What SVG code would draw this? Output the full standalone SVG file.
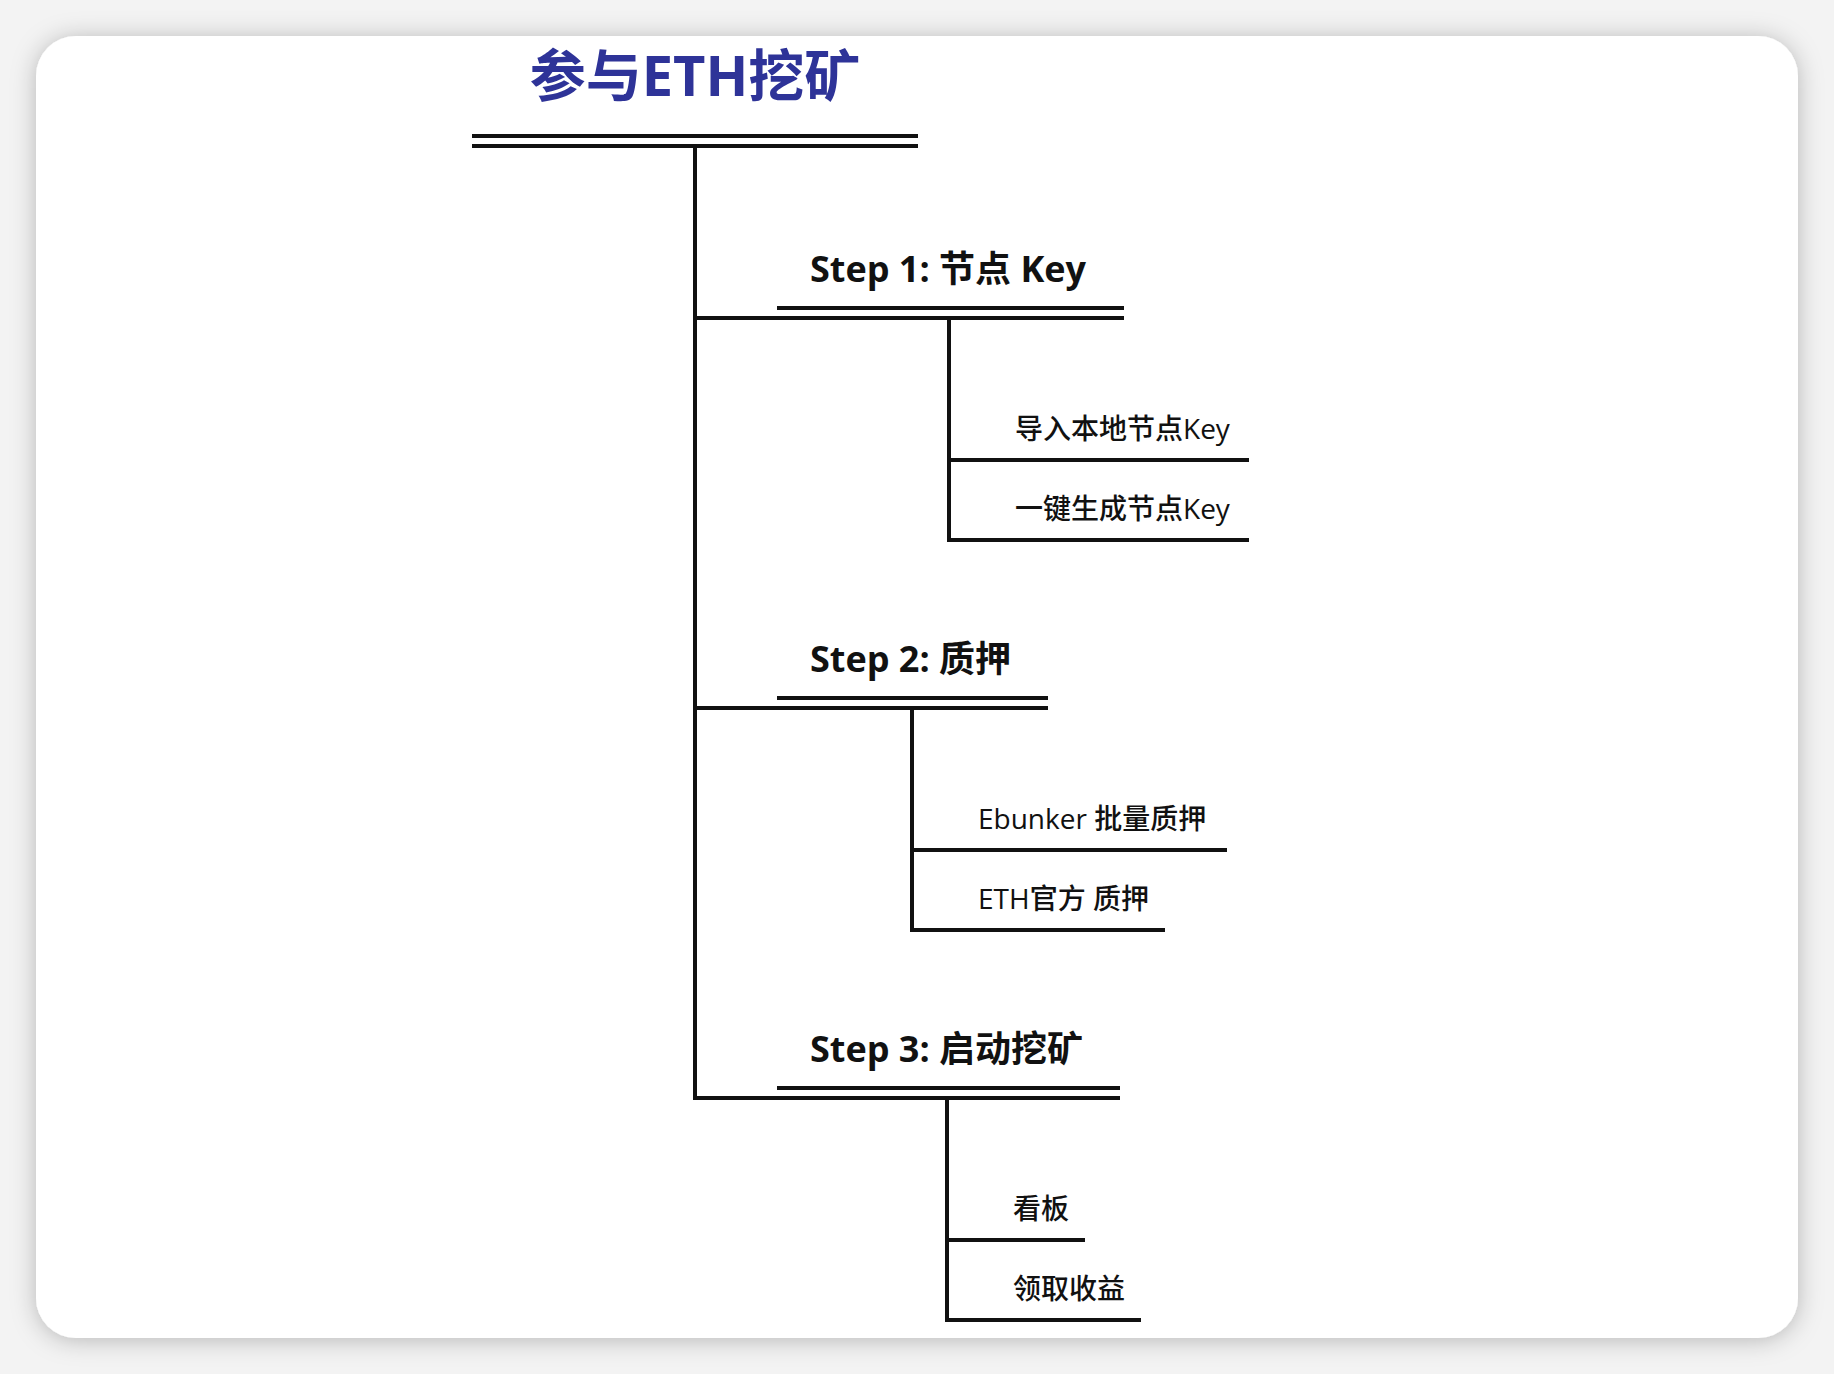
<svg xmlns="http://www.w3.org/2000/svg" width="1834" height="1374" viewBox="0 0 1834 1374">
  <defs>
    <filter id="shadow" x="-5%" y="-5%" width="110%" height="110%">
      <feDropShadow dx="0" dy="2" stdDeviation="12" flood-color="#000" flood-opacity="0.25"/>
    </filter>
    <style>
      .ln { stroke: #111; stroke-width: 4; fill: none; stroke-linecap: butt; }
      .title { font-family: "Open Sans", "Noto Sans CJK SC", sans-serif; font-weight: 700; font-size: 56px; fill: #2e3398; }
      .step { font-family: "Open Sans", "Noto Sans CJK SC", sans-serif; font-weight: 700; font-size: 36px; fill: #111; }
      .item { font-family: "Open Sans", "Noto Sans CJK SC", sans-serif; font-weight: 500; font-size: 28px; fill: #111; }
    </style>
  </defs>
  <rect x="0" y="0" width="1834" height="1374" fill="#f3f3f3"/>
  <rect x="36" y="36" width="1762" height="1302" rx="40" ry="40" fill="#ffffff" filter="url(#shadow)"/>

  <g id="connectors">
    <line class="ln" x1="695" y1="146" x2="695" y2="1099.7"/>
    <line class="ln" x1="693" y1="318" x2="1124" y2="318"/>
    <line class="ln" x1="693" y1="708" x2="1048" y2="708"/>
    <line class="ln" x1="693" y1="1098" x2="1120" y2="1098"/>
    <line class="ln" x1="949" y1="318" x2="949" y2="542"/>
    <line class="ln" x1="912" y1="708" x2="912" y2="932"/>
    <line class="ln" x1="947" y1="1098" x2="947" y2="1322"/>
    <line class="ln" x1="947" y1="460" x2="1249" y2="460"/>
    <line class="ln" x1="947" y1="540" x2="1249" y2="540"/>
    <line class="ln" x1="910" y1="850" x2="1227" y2="850"/>
    <line class="ln" x1="910" y1="930" x2="1165" y2="930"/>
    <line class="ln" x1="945" y1="1240" x2="1085" y2="1240"/>
    <line class="ln" x1="945" y1="1320" x2="1141" y2="1320"/>
  </g>

  <g id="root">
    <text class="title" x="695" y="96" text-anchor="middle">参与ETH挖矿</text>
    <line class="ln" x1="472" y1="136" x2="918" y2="136"/>
    <line class="ln" x1="472" y1="146" x2="918" y2="146"/>
  </g>

  <g id="step1">
    <text class="step" x="810" y="282">Step 1: 节点 Key</text>
    <line class="ln" x1="777" y1="308" x2="1124" y2="308"/>
  </g>
  <g id="step1-item1">
    <text class="item" x="1015" y="439">导入本地节点Key</text>
  </g>
  <g id="step1-item2">
    <text class="item" x="1015" y="519">一键生成节点Key</text>
  </g>

  <g id="step2">
    <text class="step" x="810" y="672">Step 2: 质押</text>
    <line class="ln" x1="777" y1="698" x2="1048" y2="698"/>
  </g>
  <g id="step2-item1">
    <text class="item" x="978" y="829">Ebunker 批量质押</text>
  </g>
  <g id="step2-item2">
    <text class="item" x="978" y="909">ETH官方 质押</text>
  </g>

  <g id="step3">
    <text class="step" x="810" y="1062">Step 3: 启动挖矿</text>
    <line class="ln" x1="777" y1="1088" x2="1120" y2="1088"/>
  </g>
  <g id="step3-item1">
    <text class="item" x="1013" y="1219">看板</text>
  </g>
  <g id="step3-item2">
    <text class="item" x="1013" y="1299">领取收益</text>
  </g>
</svg>
